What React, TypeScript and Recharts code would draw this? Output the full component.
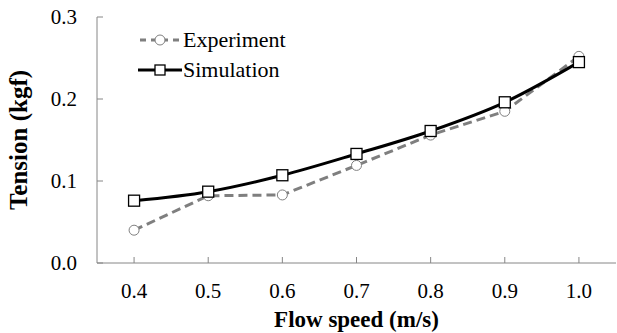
import { LineChart, Line, XAxis, YAxis } from 'recharts';

const flowSpeeds = [0.4, 0.5, 0.6, 0.7, 0.8, 0.9, 1.0];
const experiment = [0.040, 0.082, 0.083, 0.119, 0.156, 0.185, 0.252];
const simulation = [0.076, 0.087, 0.107, 0.133, 0.161, 0.196, 0.245];
const xTicks = [0.4, 0.5, 0.6, 0.7, 0.8, 0.9, 1.0];
const yTicks = [0, 0.1, 0.2, 0.3];

const AXIS = '#868686';
const GRAY = '#7f7f7f';
const FONT = '"Liberation Serif", "Times New Roman", serif';

const data = flowSpeeds.map((speed, i) => ({
  speed,
  experiment: experiment[i],
  simulation: simulation[i],
}));

const XTick = ({ x, y, payload }: any) => (
  <g>
    <line x1={x} x2={x} y1={y - 6} y2={y} stroke={AXIS} strokeWidth={1} />
    <text x={x} y={y + 35} textAnchor="middle" fontFamily={FONT} fontSize={21} fill="#000">
      {Number(payload.value).toFixed(1)}
    </text>
  </g>
);

const YTick = ({ x, y, payload }: any) => (
  <g>
    <line x1={x} x2={x + 6} y1={y} y2={y} stroke={AXIS} strokeWidth={1} />
    <text x={x - 20} y={y + 7} textAnchor="end" fontFamily={FONT} fontSize={21} fill="#000">
      {Number(payload.value).toFixed(1)}
    </text>
  </g>
);

const Circle = ({ cx, cy }: any) =>
  cx == null ? null : <circle cx={cx} cy={cy} r={5} fill="#fff" stroke={GRAY} strokeWidth={1} />;

const Square = ({ cx, cy }: any) =>
  cx == null ? null : (
    <rect x={cx - 5.5} y={cy - 5.5} width={11} height={11} fill="#fff" stroke="#000" strokeWidth={1.3} />
  );

const legendItems = [
  { name: 'Experiment', kind: 'circle' },
  { name: 'Simulation', kind: 'square' },
];

// legend sits inside the plot, top-left, so it's overlaid instead of taking chart space
const ChartLegend = () => (
  <div style={{ position: 'absolute', left: 138, top: 25, fontFamily: FONT, fontSize: 22, color: '#000' }}>
    {legendItems.map((item) => (
      <div key={item.name} style={{ display: 'flex', alignItems: 'center', height: 30 }}>
        <svg width={44} height={20} style={{ display: 'block' }}>
          {item.kind === 'circle' ? (
            <g>
              <line x1={2} x2={42} y1={10} y2={10} stroke={GRAY} strokeWidth={3} strokeDasharray="6 5" />
              <circle cx={22} cy={10} r={5} fill="#fff" stroke={GRAY} strokeWidth={1} />
            </g>
          ) : (
            <g>
              <line x1={0} x2={44} y1={10} y2={10} stroke="#000" strokeWidth={3} />
              <rect x={17} y={5} width={10} height={10} fill="#fff" stroke="#000" strokeWidth={1.3} />
            </g>
          )}
        </svg>
        <span style={{ marginLeft: 1, lineHeight: '30px' }}>{item.name}</span>
      </div>
    ))}
  </div>
);

export default function App() {
  return (
    <div style={{ position: 'absolute', left: 0, top: 0, width: 617, height: 333, background: '#fff' }}>
      <LineChart width={617} height={333} data={data} margin={{ top: 17, right: 1, left: 0, bottom: 0 }}>
        <XAxis
          dataKey="speed"
          type="number"
          domain={[0.35, 1.05]}
          ticks={xTicks}
          height={70}
          stroke={AXIS}
          tickLine={false}
          tickSize={0}
          tickMargin={0}
          tick={<XTick />}
          interval={0}
          label={{
            value: 'Flow speed (m/s)',
            position: 'insideBottom',
            offset: 6,
            style: { fontFamily: FONT, fontSize: 23, fontWeight: 'bold', fill: '#000' },
          }}
        />
        <YAxis
          type="number"
          domain={[0, 0.3]}
          ticks={yTicks}
          width={97}
          stroke={AXIS}
          tickLine={false}
          tickSize={0}
          tickMargin={0}
          tick={<YTick />}
          interval={0}
          label={{
            value: 'Tension (kgf)',
            angle: -90,
            position: 'insideLeft',
            offset: 18,
            style: { textAnchor: 'middle', fontFamily: FONT, fontSize: 25, fontWeight: 'bold', fill: '#000' },
          }}
        />
        <Line
          type="linear"
          dataKey="experiment"
          stroke={GRAY}
          strokeWidth={3}
          strokeDasharray="9 5"
          dot={<Circle />}
          activeDot={false}
          isAnimationActive={false}
        />
        <Line
          type="monotone"
          dataKey="simulation"
          stroke="#000"
          strokeWidth={3}
          dot={<Square />}
          activeDot={false}
          isAnimationActive={false}
        />
      </LineChart>
      <ChartLegend />
    </div>
  );
}
